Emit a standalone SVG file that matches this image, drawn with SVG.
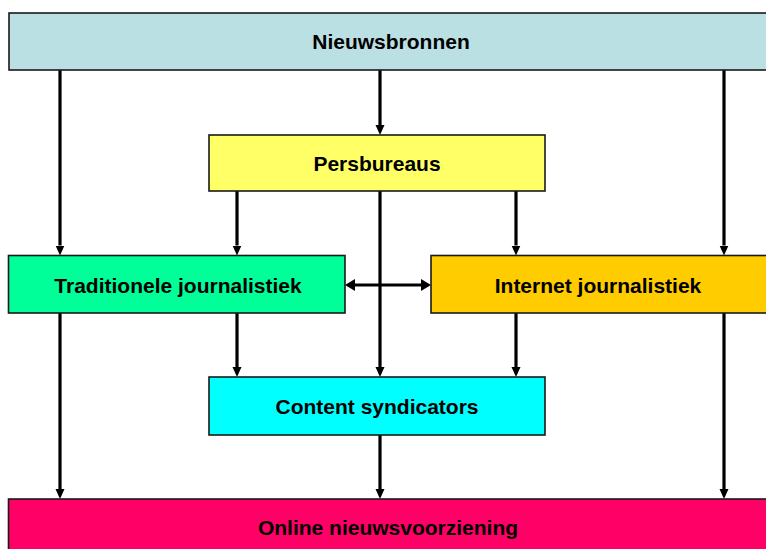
<svg xmlns="http://www.w3.org/2000/svg" width="766" height="549" viewBox="0 0 766 549">
<defs>
<style>
.box{stroke:#1a1a1a;stroke-width:1.6}
.lbl{font-family:"Liberation Sans",Arial,sans-serif;font-weight:bold;font-size:21px;text-anchor:middle;fill:#000}
.con{stroke:#000;stroke-width:3.2;fill:none}
</style>
<marker id="ah" markerUnits="userSpaceOnUse" markerWidth="11" markerHeight="10" refX="0" refY="4.5" orient="auto-start-reverse">
<path d="M0,0 L10,4.5 L0,9 z" fill="#000"/>
</marker>
<marker id="ah2" markerUnits="userSpaceOnUse" markerWidth="11" markerHeight="13" refX="0" refY="6" orient="auto-start-reverse">
<path d="M0,0 L10,6 L0,12 z" fill="#000"/>
</marker>
</defs>
<rect width="766" height="549" fill="#fff"/>
<g id="connectors">
<line class="con" x1="380" y1="70" x2="380" y2="125" marker-end="url(#ah)"/>
<line class="con" x1="60" y1="70" x2="60" y2="245.5" marker-end="url(#ah)"/>
<line class="con" x1="724" y1="70" x2="724" y2="245.5" marker-end="url(#ah)"/>
<line class="con" x1="237" y1="191" x2="237" y2="245.5" marker-end="url(#ah)"/>
<line class="con" x1="516" y1="191" x2="516" y2="245.5" marker-end="url(#ah)"/>
<line class="con" x1="380" y1="191" x2="380" y2="367" marker-end="url(#ah)"/>
<line class="con" x1="237" y1="313" x2="237" y2="367" marker-end="url(#ah)"/>
<line class="con" x1="516" y1="313" x2="516" y2="367" marker-end="url(#ah)"/>
<line class="con" x1="60" y1="313" x2="60" y2="489" marker-end="url(#ah)"/>
<line class="con" x1="724" y1="313" x2="724" y2="489" marker-end="url(#ah)"/>
<line class="con" x1="380" y1="435" x2="380" y2="489" marker-end="url(#ah)"/>
<line class="con" x1="355" y1="285" x2="421" y2="285" marker-start="url(#ah2)" marker-end="url(#ah2)"/>
</g>
<g id="nieuwsbronnen">
<rect class="box" x="9" y="13" width="770" height="57" fill="#BAE0E3"/>
<text class="lbl" x="391" y="48.5">Nieuwsbronnen</text>
</g>
<g id="persbureaus">
<rect class="box" x="209" y="135" width="336" height="56" fill="#FFFF66"/>
<text class="lbl" x="377" y="170.5">Persbureaus</text>
</g>
<g id="traditionele">
<rect class="box" x="8.5" y="255.5" width="336.5" height="57.5" fill="#00FF99"/>
<text class="lbl" x="178" y="292.5">Traditionele journalistiek</text>
</g>
<g id="internet">
<rect class="box" x="431" y="255.5" width="345" height="57.5" fill="#FFCC00"/>
<text class="lbl" x="598" y="292.5">Internet journalistiek</text>
</g>
<g id="content">
<rect class="box" x="209" y="377" width="336" height="58" fill="#00FFFF"/>
<text class="lbl" x="377" y="413.5">Content syndicators</text>
</g>
<g id="online">
<rect class="box" x="8.5" y="499" width="770" height="60" fill="#FF0066"/>
<text class="lbl" x="388" y="535">Online nieuwsvoorziening</text>
</g>
</svg>
